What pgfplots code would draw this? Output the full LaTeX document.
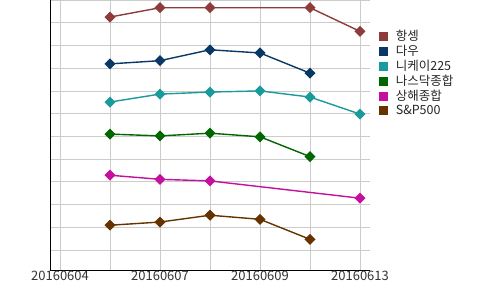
\documentclass[border=0pt]{standalone}
\usepackage{fontspec}
\setmainfont{Noto Sans CJK KR}
\usepackage{pgfplots}
\pgfplotsset{compat=1.18}
\definecolor{chs}{HTML}{8E3B3B}
\definecolor{cdow}{HTML}{0A3866}
\definecolor{cnk}{HTML}{1A9A9A}
\definecolor{cnq}{HTML}{006600}
\definecolor{csh}{HTML}{C4109C}
\definecolor{csp}{HTML}{663300}
\definecolor{cgrid}{HTML}{CCCCCC}
\begin{document}
\begin{tikzpicture}
\path[use as bounding box] (0,0) rectangle (500pt,290pt);
\begin{axis}[
  at={(50pt,20pt)}, anchor=south west,
  scale only axis, width=320pt, height=270pt,
  xmin=-0.2, xmax=6.2, ymin=0.12, ymax=12,
  axis x line=bottom, axis y line=left,
  axis line style={-, black, line width=1pt},
  xtick={0,...,6},
  xticklabels={20160604,,20160607,,20160609,,20160613},
  ytick={1,...,12}, yticklabels={},
  major tick length=0pt,
  grid=major, grid style={cgrid, line width=0.7pt},
  /pgf/number format/assume math mode=true,
  xticklabel style={font=\fontsize{13}{13}\selectfont, text=black!80, inner sep=1pt},
  every axis plot/.append style={line width=1.4pt, mark=square*, mark options={rotate=45, solid}, mark size=3.2pt},
  legend image code/.code={\fill[#1, draw=none] (0pt,-4.5pt) rectangle (9pt,4.5pt); \path (14pt,0pt);},
  legend style={at={(1.028,0.895)}, anchor=north west, draw=none, fill=none,
    font=\fontsize{12.5}{12.5}\selectfont, text=black!85, row sep=-1.0pt, inner sep=0pt},
  legend cell align=left,
  clip=false,
]
\addplot[color=chs] coordinates {(1,11.25) (2,11.66) (3,11.66) (5,11.66) (6,10.62)};
\addlegendentry{항셍}
\addplot[color=cdow] coordinates {(1,9.19) (2,9.33) (3,9.81) (4,9.67) (5,8.78)};
\addlegendentry{다우}
\addplot[color=cnk] coordinates {(1,7.51) (2,7.86) (3,7.95) (4,8.00) (5,7.73) (6,6.98)};
\addlegendentry{니케이225}
\addplot[color=cnq] coordinates {(1,6.10) (2,6.02) (3,6.14) (4,5.98) (5,5.11)};
\addlegendentry{나스닥종합}
\addplot[color=csh] coordinates {(1,4.29) (2,4.11) (3,4.04) (6,3.28)};
\addlegendentry{상해종합}
\addplot[color=csp] coordinates {(1,2.09) (2,2.23) (3,2.53) (4,2.35) (5,1.47)};
\addlegendentry{S\&P500}
\end{axis}
\end{tikzpicture}
\end{document}
